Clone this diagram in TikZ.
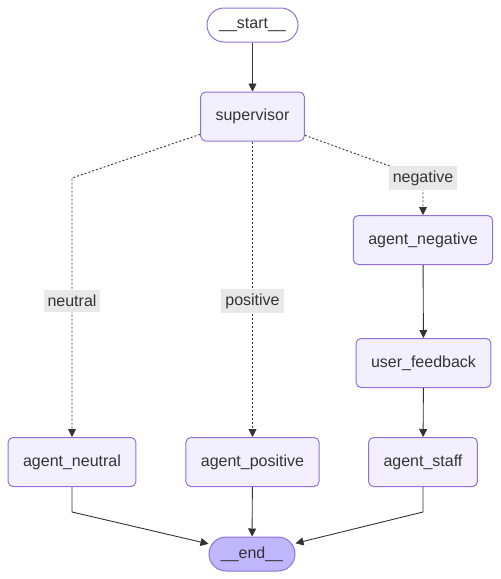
\documentclass[tikz,border=0pt]{standalone}
\usepackage{fontspec}
\setmainfont{Liberation Sans}
\usetikzlibrary{arrows.meta}
\definecolor{nodefill}{HTML}{F2F0FF}
\definecolor{nodeline}{HTML}{9370DB}
\definecolor{endfill}{HTML}{BFB6FC}
\definecolor{ink}{HTML}{333333}
\definecolor{lblfill}{HTML}{E8E8E8}

\begin{document}
\begin{tikzpicture}[x=1pt,y=-1pt,
  box/.style={draw=nodeline,fill=nodefill,line width=1pt,rounded corners=5pt,minimum height=49pt,inner xsep=15pt,text=ink,font=\fontsize{16}{19}\selectfont},
  term/.style={box,minimum height=34pt,inner xsep=3pt,rounded corners=17pt},
  lbl/.style={fill=lblfill,inner xsep=4pt,inner ysep=5pt,text=ink,font=\fontsize{16}{19}\selectfont},
  flow/.style={draw=ink,line width=0.9pt,-{Triangle[length=8pt,width=8pt]}},
  cond/.style={flow,dash pattern=on 2pt off 2pt}]
  \useasboundingbox (0,0) rectangle (501,579);
  \node[term,fill=white,minimum width=91pt] (start) at (252.5,25) {\_\_start\_\_};
  \node[box] (sup) at (252.5,116.5) {supervisor};
  \node[box] (neg) at (423,240) {agent\_negative};
  \node[box] (fb) at (423.5,363) {user\_feedback};
  \node[box] (neu) at (72,462) {agent\_neutral};
  \node[box] (pos) at (252.5,462) {agent\_positive};
  \node[box] (staff) at (423,462) {agent\_staff};
  \node[term,fill=endfill,minimum width=86pt] (end) at (252,554) {\_\_end\_\_};
  \coordinate (c1) at (72,178);
  \coordinate (c2) at (423,178);
  \coordinate (c3) at (72,512);
  \coordinate (c4) at (423,512);
  \draw[flow] (start) -- (sup);
  \draw[cond] (sup) -- (c1) -- (neu);
  \draw[cond] (sup) -- (pos);
  \draw[cond] (sup) -- (c2) -- (neg);
  \draw[flow] (neg) -- (fb);
  \draw[flow] (fb) -- (staff);
  \draw[flow] (neu) -- (c3) -- (end);
  \draw[flow] (pos) -- (end);
  \draw[flow] (staff) -- (c4) -- (end);
  \node[lbl] (lneu) at (72,301) {neutral};
  \node[lbl] (lpos) at (252.5,301) {positive};
  \node[lbl] (lneg) at (423,178) {negative};
\end{tikzpicture}
\end{document}
